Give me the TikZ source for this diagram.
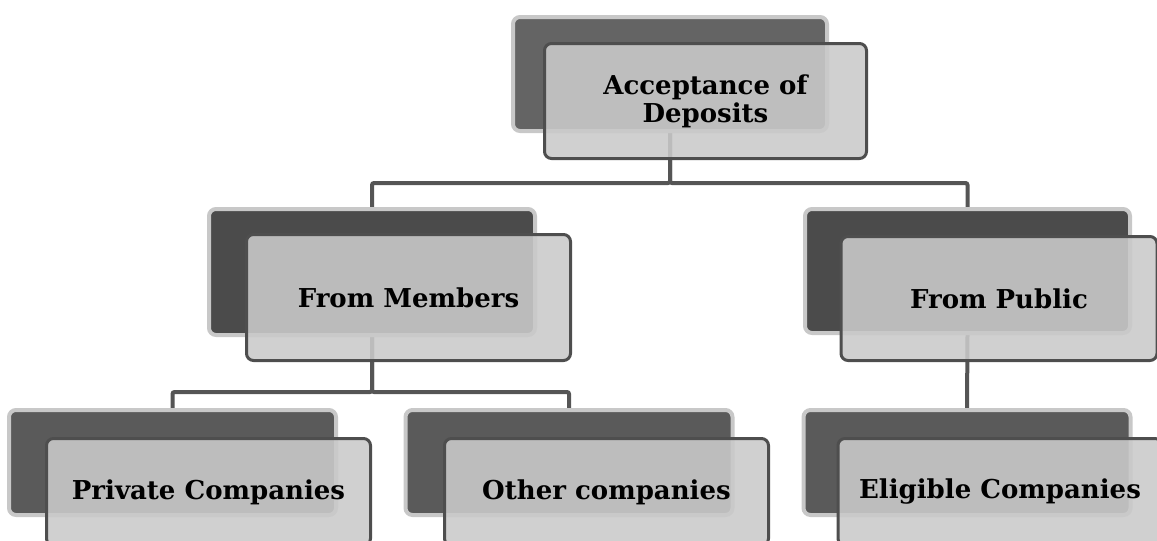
\documentclass[tikz,border=0pt]{standalone}
\usepackage{fontspec}
\setmainfont{DejaVu Serif}
\usetikzlibrary{calc}
\pgfdeclarelayer{bg}
\pgfsetlayers{bg,main}
\definecolor{lightb}{HTML}{C8C8C8}
\definecolor{backA}{HTML}{646464}
\definecolor{backB}{HTML}{4B4B4B}
\definecolor{backC}{HTML}{5A5A5A}
\definecolor{frontb}{HTML}{4E4E4E}
\definecolor{frontfill}{HTML}{CACACA}
\definecolor{connc}{HTML}{555555}
\tikzset{
  backbox/.style={draw=lightb, line width=4pt, rounded corners=7pt, inner sep=0pt},
  frontbox/.style={draw=frontb, line width=3pt, fill=frontfill, fill opacity=0.885, draw opacity=1, text opacity=1,
    rounded corners=7pt, inner sep=0pt, align=center, font=\fontsize{26}{28}\selectfont\bfseries},
  conn/.style={draw=connc, line width=4pt, rounded corners=2pt},
}
\begin{document}
\begin{tikzpicture}[x=1pt,y=-1pt]
\useasboundingbox (0,0) rectangle (1157,541);
\clip (0,0) rectangle (1157,541);
% back boxes
\node[backbox, fill=backA, minimum width=314pt, minimum height=114pt] (top) at (670,74) {};
\node[backbox, fill=backB, minimum width=326pt, minimum height=126pt] (fm) at (372,272) {};
\node[backbox, fill=backB, minimum width=325pt, minimum height=124pt] (fp) at (967.5,271) {};
\node[backbox, fill=backC, minimum width=327pt, minimum height=105pt] (pc) at (172.5,462.5) {};
\node[backbox, fill=backC, minimum width=327pt, minimum height=105pt] (oc) at (569,462.5) {};
\node[backbox, fill=backC, minimum width=327pt, minimum height=105pt] (ec) at (967,462.5) {};
% front boxes
\node[frontbox, minimum width=322pt, minimum height=115pt] (topf) at (705.5,101) {Acceptance of\\Deposits};
\node[frontbox, minimum width=324pt, minimum height=126pt] (fmf) at (408.5,297.5) {From Members};
\node[frontbox, minimum width=316pt, minimum height=124pt] (fpf) at (999,298.5) {From Public};
\node[frontbox, minimum width=324pt, minimum height=107pt] (pcf) at (208.5,492) {Private Companies};
\node[frontbox, minimum width=324pt, minimum height=107pt] (ocf) at (606.5,492) {Other companies};
\node[frontbox, minimum width=324pt, minimum height=107pt] (ecf) at (1000,492) {Eligible Companies};
% connectors
\coordinate (j1) at (0,183);
\coordinate (j2) at (0,392);
\begin{pgfonlayer}{bg}
\draw[conn] (top.south) |- (j1 -| fm) -- (fm.north);
\draw[conn] (top.south) |- (j1 -| fp) -- (fp.north);
\draw[conn] (fm.south) |- (j2 -| pc) -- (pc.north);
\draw[conn] (fm.south) |- (j2 -| oc) -- (oc.north);
\draw[conn] (fp.south) -- (ec.north);
\end{pgfonlayer}
\end{tikzpicture}
\end{document}
